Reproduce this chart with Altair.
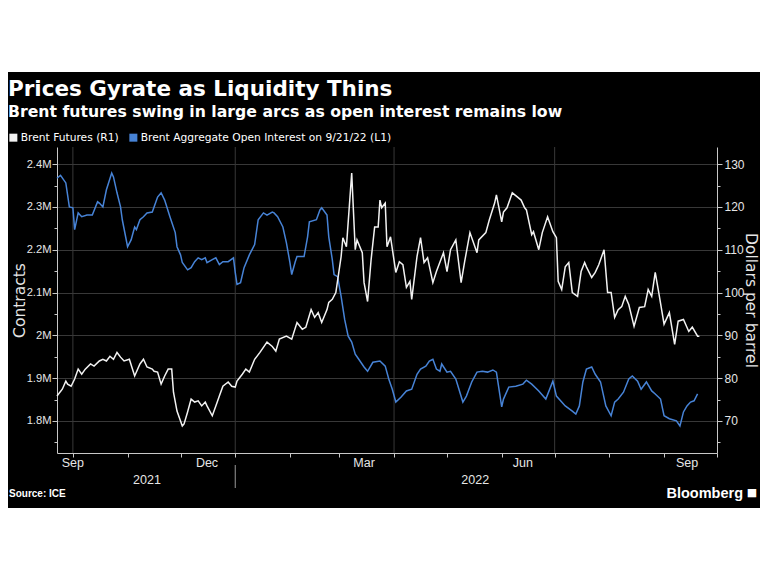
import altair as alt
import pandas as pd

# ---------------- data ----------------
price_dates = [
    "2021-09-22", "2021-09-25", "2021-09-27", "2021-09-28", "2021-09-30", "2021-10-02", "2021-10-04",
    "2021-10-06", "2021-10-08", "2021-10-11", "2021-10-13", "2021-10-16", "2021-10-18", "2021-10-20",
    "2021-10-22", "2021-10-24", "2021-10-26", "2021-10-28", "2021-10-30", "2021-11-02", "2021-11-05",
    "2021-11-08", "2021-11-10", "2021-11-12", "2021-11-15", "2021-11-16", "2021-11-18", "2021-11-20",
    "2021-11-22", "2021-11-24", "2021-11-26", "2021-11-27", "2021-11-29", "2021-12-02", "2021-12-03",
    "2021-12-05", "2021-12-07", "2021-12-09", "2021-12-11", "2021-12-13", "2021-12-15", "2021-12-16",
    "2021-12-19", "2021-12-21", "2021-12-23", "2021-12-25", "2021-12-28", "2021-12-30", "2022-01-01",
    "2022-01-02", "2022-01-05", "2022-01-07", "2022-01-09", "2022-01-12", "2022-01-15", "2022-01-19",
    "2022-01-22", "2022-01-24", "2022-01-26", "2022-01-30", "2022-02-02", "2022-02-05", "2022-02-08",
    "2022-02-10", "2022-02-13", "2022-02-15", "2022-02-17", "2022-02-19", "2022-02-22", "2022-02-23",
    "2022-02-25", "2022-02-27", "2022-03-02", "2022-03-03", "2022-03-05", "2022-03-08", "2022-03-10",
    "2022-03-11", "2022-03-14", "2022-03-15", "2022-03-17", "2022-03-19", "2022-03-21", "2022-03-23",
    "2022-03-24", "2022-03-25", "2022-03-27", "2022-03-28", "2022-03-30", "2022-04-02", "2022-04-04",
    "2022-04-06", "2022-04-08", "2022-04-10", "2022-04-11", "2022-04-14", "2022-04-16", "2022-04-18",
    "2022-04-20", "2022-04-23", "2022-04-25", "2022-04-29", "2022-05-01", "2022-05-03", "2022-05-06",
    "2022-05-09", "2022-05-11", "2022-05-14", "2022-05-18", "2022-05-19", "2022-05-23", "2022-05-25",
    "2022-05-28", "2022-05-29", "2022-06-01", "2022-06-02", "2022-06-04", "2022-06-07", "2022-06-10",
    "2022-06-12", "2022-06-14", "2022-06-15", "2022-06-18", "2022-06-19", "2022-06-22", "2022-06-24",
    "2022-06-27", "2022-06-30", "2022-07-02", "2022-07-03", "2022-07-05", "2022-07-07", "2022-07-09",
    "2022-07-11", "2022-07-14", "2022-07-16", "2022-07-18", "2022-07-19", "2022-07-22", "2022-07-24",
    "2022-07-26", "2022-07-29", "2022-07-31", "2022-08-02", "2022-08-04", "2022-08-06", "2022-08-08",
    "2022-08-10", "2022-08-12", "2022-08-15", "2022-08-18", "2022-08-21", "2022-08-23", "2022-08-25",
    "2022-08-27", "2022-08-29", "2022-09-01", "2022-09-04", "2022-09-07", "2022-09-09", "2022-09-12",
    "2022-09-15", "2022-09-17", "2022-09-20", "2022-09-21",
]
price_values = [
    75.8, 77.4, 79.3, 78.6, 78.1, 79.8, 82.1,
    80.9, 82.1, 83.3, 82.8, 84.0, 84.4, 84.0,
    85.1, 84.4, 86.0, 84.9, 84.0, 84.4, 80.5,
    83.3, 84.4, 82.6, 82.1, 81.6, 81.4, 78.6,
    80.5, 82.1, 82.1, 76.7, 72.3, 68.8, 69.3,
    72.1, 75.1, 74.4, 74.7, 73.5, 74.4, 73.5,
    71.2, 73.5, 75.8, 78.1, 79.1, 78.1, 77.9,
    79.3, 80.9, 82.1, 81.4, 84.4, 86.0, 88.4,
    87.4, 86.3, 89.1, 89.8, 89.1, 93.0, 91.4,
    91.9, 96.0, 94.2, 95.3, 93.0, 96.0, 97.7,
    98.4, 100.0, 108.4, 112.8, 110.7, 127.9, 110.0,
    112.3, 109.3, 102.3, 97.9, 107.7, 115.3, 115.3,
    121.6, 119.8, 120.9, 110.7, 113.0, 104.7, 107.2,
    106.5, 101.2, 102.6, 98.4, 108.4, 112.8, 107.0,
    108.1, 102.3, 104.9, 109.3, 104.9, 110.0, 112.3,
    102.3, 107.2, 114.0, 109.3, 112.3, 114.0, 117.0,
    120.9, 122.8, 116.5, 118.8, 119.8, 123.3, 122.3,
    121.6, 119.8, 119.3, 113.5, 114.2, 110.0, 114.0,
    117.7, 114.2, 112.8, 102.6, 100.7, 106.0, 107.0,
    100.0, 99.1, 104.9, 107.0, 106.0, 103.5, 104.7,
    106.5, 110.0, 100.0, 100.0, 94.2, 96.0, 96.7,
    99.1, 97.2, 92.1, 96.5, 96.7, 100.7, 99.1,
    104.7, 100.0, 92.6, 95.3, 87.9, 93.3, 93.7,
    90.9, 91.9, 89.8, 89.8,
]

oi_dates = [
    "2021-09-22", "2021-09-24", "2021-09-27", "2021-09-29", "2021-10-01", "2021-10-02", "2021-10-04",
    "2021-10-06", "2021-10-09", "2021-10-12", "2021-10-15", "2021-10-16", "2021-10-18", "2021-10-20",
    "2021-10-23", "2021-10-24", "2021-10-26", "2021-10-28", "2021-10-29", "2021-11-01", "2021-11-03",
    "2021-11-05", "2021-11-06", "2021-11-08", "2021-11-10", "2021-11-12", "2021-11-15", "2021-11-18",
    "2021-11-20", "2021-11-22", "2021-11-25", "2021-11-28", "2021-11-29", "2021-12-01", "2021-12-02",
    "2021-12-05", "2021-12-07", "2021-12-09", "2021-12-11", "2021-12-13", "2021-12-15", "2021-12-16",
    "2021-12-19", "2021-12-21", "2021-12-23", "2021-12-25", "2021-12-28", "2021-12-31", "2022-01-01",
    "2022-01-02", "2022-01-04", "2022-01-06", "2022-01-09", "2022-01-12", "2022-01-14", "2022-01-17",
    "2022-01-19", "2022-01-22", "2022-01-23", "2022-01-25", "2022-01-28", "2022-01-30", "2022-02-01",
    "2022-02-02", "2022-02-04", "2022-02-05", "2022-02-09", "2022-02-11", "2022-02-12", "2022-02-16",
    "2022-02-18", "2022-02-19", "2022-02-22", "2022-02-23", "2022-02-25", "2022-02-26", "2022-02-28",
    "2022-03-02", "2022-03-04", "2022-03-06", "2022-03-08", "2022-03-10", "2022-03-12", "2022-03-15",
    "2022-03-17", "2022-03-20", "2022-03-24", "2022-03-27", "2022-03-29", "2022-03-31", "2022-04-02",
    "2022-04-05", "2022-04-08", "2022-04-11", "2022-04-14", "2022-04-16", "2022-04-19", "2022-04-21",
    "2022-04-23", "2022-04-25", "2022-04-27", "2022-04-28", "2022-05-01", "2022-05-03", "2022-05-06",
    "2022-05-10", "2022-05-12", "2022-05-15", "2022-05-18", "2022-05-21", "2022-05-24", "2022-05-27",
    "2022-05-29", "2022-06-01", "2022-06-02", "2022-06-05", "2022-06-09", "2022-06-13", "2022-06-15",
    "2022-06-18", "2022-06-22", "2022-06-26", "2022-06-30", "2022-07-02", "2022-07-05", "2022-07-07",
    "2022-07-11", "2022-07-13", "2022-07-15", "2022-07-17", "2022-07-19", "2022-07-22", "2022-07-24",
    "2022-07-27", "2022-07-30", "2022-08-02", "2022-08-04", "2022-08-06", "2022-08-09", "2022-08-12",
    "2022-08-14", "2022-08-17", "2022-08-19", "2022-08-22", "2022-08-25", "2022-08-27", "2022-08-30",
    "2022-09-01", "2022-09-04", "2022-09-08", "2022-09-10", "2022-09-12", "2022-09-14", "2022-09-16",
    "2022-09-18", "2022-09-20",
]
# millions of contracts
oi_values = [
    2.367, 2.374, 2.356, 2.300, 2.298, 2.247, 2.286,
    2.277, 2.281, 2.281, 2.312, 2.309, 2.300, 2.340,
    2.379, 2.370, 2.333, 2.300, 2.270, 2.207, 2.223,
    2.253, 2.247, 2.270, 2.277, 2.286, 2.288, 2.323,
    2.333, 2.316, 2.277, 2.240, 2.207, 2.188, 2.170,
    2.153, 2.158, 2.172, 2.181, 2.177, 2.181, 2.170,
    2.177, 2.181, 2.165, 2.172, 2.172, 2.181, 2.147,
    2.119, 2.123, 2.158, 2.188, 2.212, 2.270, 2.286,
    2.281, 2.288, 2.286, 2.277, 2.253, 2.216, 2.170,
    2.142, 2.172, 2.184, 2.184, 2.230, 2.265, 2.270,
    2.293, 2.298, 2.281, 2.230, 2.177, 2.142, 2.137,
    2.091, 2.037, 1.998, 1.984, 1.956, 1.944, 1.926,
    1.916, 1.937, 1.940, 1.928, 1.898, 1.874, 1.844,
    1.856, 1.870, 1.874, 1.909, 1.921, 1.928, 1.940,
    1.944, 1.921, 1.916, 1.933, 1.914, 1.916, 1.898,
    1.844, 1.858, 1.891, 1.914, 1.916, 1.914, 1.919,
    1.914, 1.833, 1.851, 1.879, 1.881, 1.886, 1.895,
    1.886, 1.870, 1.851, 1.893, 1.858, 1.844, 1.835,
    1.823, 1.816, 1.835, 1.891, 1.921, 1.926, 1.909,
    1.891, 1.835, 1.812, 1.844, 1.851, 1.867, 1.898,
    1.905, 1.893, 1.874, 1.891, 1.870, 1.863, 1.851,
    1.812, 1.805, 1.800, 1.788, 1.821, 1.835, 1.844,
    1.847, 1.863,
]

series_names = ["Brent Futures (R1)", "Brent Aggregate Open Interest on 9/21/22 (L1)"]
series_colors = ["#f2f2f2", "#4783d6"]

title_text = "Prices Gyrate as Liquidity Thins"
subtitle_text = "Brent futures swing in large arcs as open interest remains low"
source_text = "Source: ICE"
brand_text = "Bloomberg"

month_label_dates = ["2021-10-01", "2021-12-16", "2022-03-15", "2022-06-13", "2022-09-14"]
month_labels = ["Sep", "Dec", "Mar", "Jun", "Sep"]
year_label_dates = ["2021-11-12", "2022-05-17"]
year_labels = ["2021", "2022"]
quarter_dates = ["2021-10-01", "2022-01-01", "2022-04-01", "2022-07-01"]
year_break_dates = ["2022-01-01"]
month_ticks = [(2021, 10), (2021, 11), (2021, 12), (2022, 1), (2022, 2), (2022, 3), (2022, 4),
               (2022, 5), (2022, 6), (2022, 7), (2022, 8), (2022, 9), (2022, 10)]
left_ticks = [1.75, 1.8, 1.85, 1.9, 1.95, 2.0, 2.05, 2.1, 2.15, 2.2, 2.25, 2.3, 2.35, 2.4]
right_ticks = [65, 70, 75, 80, 85, 90, 95, 100, 105, 110, 115, 120, 125, 130]
left_domain = [1.725, 2.44]
right_domain = [62.5, 134]
x_domain = [(2021, 9, 22), (2022, 10, 1)]

# ---------------- tables ----------------
price_df = pd.DataFrame({"date": price_dates, "value": price_values, "series": series_names[0]})
oi_df = pd.DataFrame({"date": oi_dates, "value": oi_values, "series": series_names[1]})
month_df = pd.DataFrame({"date": month_label_dates, "label": month_labels})
year_df = pd.DataFrame({"date": year_label_dates, "label": year_labels})
quarter_df = pd.DataFrame({"date": quarter_dates})
break_df = pd.DataFrame({"date": year_break_dates})
one = pd.DataFrame({"k": [0]})

W, H = 660, 306
AXIS_GREY = "#c8c8c8"
GRID = "#383838"
TXT = "#e6e6e6"
TICK_FONT = "Liberation Sans"

xscale = alt.Scale(domain=[alt.DateTime(year=y, month=m, date=d, utc=True) for (y, m, d) in x_domain])
xaxis = alt.Axis(
    values=[alt.DateTime(year=y, month=m, date=1, utc=True) for (y, m) in month_ticks],
    labels=False, grid=False, title=None, tickSize=4, tickColor=AXIS_GREY,
    domainColor=AXIS_GREY, domainWidth=1,
)
X = alt.X("date:T", scale=xscale, axis=xaxis)

major_left = "abs(datum.value*10 - round(datum.value*10)) < 0.001"
left_axis = alt.Axis(
    orient="left", title="Contracts", values=left_ticks,
    labelExpr=f"{major_left} ? format(datum.value, '~g') + 'M' : ''",
    tickSize={"condition": {"test": major_left, "value": 5}, "value": 3},
    grid=True, gridColor=GRID,
    gridOpacity={"condition": {"test": major_left, "value": 1}, "value": 0},
    domainColor=AXIS_GREY, tickColor=AXIS_GREY, labelColor=TXT,
    labelFont=TICK_FONT, labelFontSize=11.2, labelPadding=1,
    titleFont="DejaVu Sans", titleFontSize=15.5, titleFontWeight="normal",
    titleColor=TXT, titleX=-33, titleBaseline="alphabetic",
)
major_right = "datum.value % 10 == 0"
right_axis = alt.Axis(
    orient="right", title="Dollars per barrel", values=right_ticks,
    labelExpr=f"{major_right} ? datum.label : ''",
    tickSize={"condition": {"test": major_right, "value": 5}, "value": 3},
    grid=False, domainColor=AXIS_GREY, tickColor=AXIS_GREY, labelColor=TXT,
    labelFont=TICK_FONT, labelFontSize=12, labelPadding=2,
    titleFont="DejaVu Sans", titleFontSize=15.5, titleFontWeight="normal",
    titleColor=TXT, titleAngle=90, titleX=28, titleBaseline="alphabetic",
)

color_scale = alt.Scale(domain=series_names, range=series_colors)
legend = alt.Legend(
    orient="none", legendX=-49, legendY=-15, direction="horizontal", title=None,
    symbolType="square", symbolSize=16, symbolStrokeWidth=4, symbolOpacity=1,
    labelFont="DejaVu Sans", labelFontSize=10.7, labelColor="white", labelLimit=500,
    labelOffset=2, columnPadding=4,
)

# white page strips above and below the black panel
top_strip = alt.Chart(one).mark_rect(color="white").encode(
    x=alt.value(-60), x2=alt.value(720), y=alt.value(-170), y2=alt.value(-75))
bottom_strip = alt.Chart(one).mark_rect(color="white").encode(
    x=alt.value(-60), x2=alt.value(720), y=alt.value(361), y2=alt.value(450))

vgrid = alt.Chart(quarter_df).mark_rule(color=GRID, strokeWidth=1).encode(
    x=X, y=alt.value(0), y2=alt.value(H))

oi_line = alt.Chart(oi_df).mark_line(strokeWidth=1.5).encode(
    x=X,
    y=alt.Y("value:Q", scale=alt.Scale(domain=left_domain, nice=False, zero=False), axis=left_axis),
    color=alt.Color("series:N", scale=color_scale, legend=legend),
)
price_line = alt.Chart(price_df).mark_line(strokeWidth=1.5).encode(
    x=X,
    y=alt.Y("value:Q", scale=alt.Scale(domain=right_domain, nice=False, zero=False), axis=right_axis),
    color=alt.Color("series:N", scale=color_scale, legend=legend),
)

month_text = alt.Chart(month_df).mark_text(
    font=TICK_FONT, fontSize=12.5, color=TXT, baseline="middle", align="center"
).encode(x=X, y=alt.value(316), text="label:N")
year_text = alt.Chart(year_df).mark_text(
    font=TICK_FONT, fontSize=12.5, color=TXT, baseline="middle", align="center"
).encode(x=X, y=alt.value(333), text="label:N")
year_break = alt.Chart(break_df).mark_rule(color="#9a9a9a", strokeWidth=1).encode(
    x=X, y=alt.value(318), y2=alt.value(341))

title_mark = alt.Chart(one).mark_text(
    text=title_text, font="DejaVu Sans", fontSize=21.5, fontWeight="bold",
    color="white", align="left", baseline="alphabetic"
).encode(x=alt.value(-49), y=alt.value(-51))
subtitle_mark = alt.Chart(one).mark_text(
    text=subtitle_text, font="DejaVu Sans", fontSize=15.7, fontWeight="bold",
    color="white", align="left", baseline="alphabetic"
).encode(x=alt.value(-49), y=alt.value(-30))

source = alt.Chart(one).mark_text(
    text=source_text, font="Liberation Sans", fontSize=10, fontWeight="bold",
    color="white", align="left", baseline="middle"
).encode(x=alt.value(-48), y=alt.value(347))
brand = alt.Chart(one).mark_text(
    text=brand_text, font="Liberation Sans", fontSize=14.5, fontWeight="bold",
    color="white", align="right", baseline="middle"
).encode(x=alt.value(686), y=alt.value(347))
brand_icon = alt.Chart(one).mark_text(
    text="■", font="DejaVu Sans", fontSize=11, color="white", align="center", baseline="middle"
).encode(x=alt.value(695), y=alt.value(346))

chart = alt.layer(
    top_strip, bottom_strip, vgrid, oi_line, price_line,
    month_text, year_text, year_break, title_mark, subtitle_mark, source, brand, brand_icon,
).resolve_scale(
    y="independent"
).properties(
    width=W, height=H,
    autosize=alt.AutoSizeParams(type="none"),
    padding={"left": 49, "top": 139, "right": 43, "bottom": 115},
    background="#000000",
).configure_view(stroke="transparent")

chart.save("out.html", embed_options={"renderer": "svg", "actions": False})
